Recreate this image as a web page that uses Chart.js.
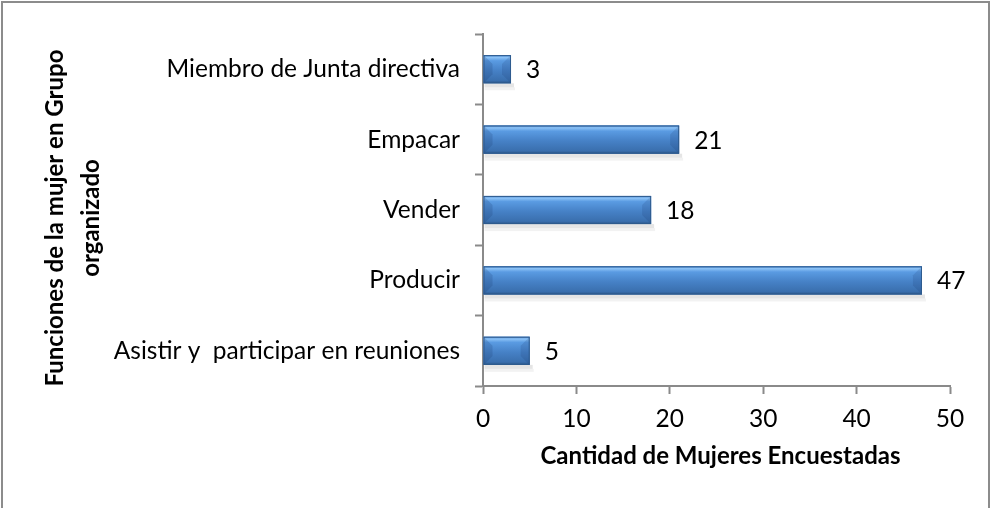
<!DOCTYPE html>
<html>
<head>
<meta charset="utf-8">
<script src="https://cdn.jsdelivr.net/npm/chart.js@4/dist/chart.umd.min.js"></script>
<style>
  html, body { margin: 0; padding: 0; background: #ffffff; }
  #wrap { width: 992px; height: 508px; position: relative; }
</style>
</head>
<body>
<div id="wrap"><canvas id="c" width="992" height="508"></canvas></div>
<script>
const categories = [
  'Miembro de Junta directiva',
  'Empacar',
  'Vender',
  'Producir',
  'Asistir y  participar en reuniones'
];
const values = [3, 21, 18, 47, 5];
const xTicks = [0, 10, 20, 30, 40, 50];
const xTitle = 'Cantidad de Mujeres Encuestadas';
const yTitleLines = ['Funciones de la mujer en Grupo', 'organizado'];

const FONT = 'Lato, "Open Sans", sans-serif';
const AXIS = '#8a8a8a';

const frame = {
  id: 'frame',
  beforeDraw(chart) {
    const ctx = chart.ctx;
    ctx.save();
    ctx.fillStyle = '#fff';
    ctx.fillRect(0, 0, chart.width, chart.height);
    ctx.strokeStyle = '#8c8c8c';
    ctx.lineWidth = 2;
    ctx.beginPath();
    ctx.moveTo(2, 520);
    ctx.lineTo(2, 2);
    ctx.lineTo(989, 2);
    ctx.lineTo(989, 520);
    ctx.stroke();
    ctx.restore();
  }
};

const bevelBars = {
  id: 'bevelBars',
  afterDatasetsDraw(chart) {
    const ctx = chart.ctx;
    const meta = chart.getDatasetMeta(0);
    meta.data.forEach((bar, i) => {
      const x0 = bar.base, x1 = bar.x;
      const h = bar.height;
      const y0 = bar.y - h / 2, y1 = bar.y + h / 2;
      const w = x1 - x0;
      ctx.save();
      // shadow
      ctx.fillStyle = 'rgba(0,0,0,0.10)';
      ctx.fillRect(x0 + 1, y1, w + 2, 4);
      ctx.fillStyle = 'rgba(0,0,0,0.05)';
      ctx.fillRect(x0 + 1, y1 + 4, w + 3, 3);
      // main gradient
      const g = ctx.createLinearGradient(0, y0, 0, y1);
      g.addColorStop(0, '#4a86cf');
      g.addColorStop(0.08, '#8cc2f6');
      g.addColorStop(0.2, '#5a9be2');
      g.addColorStop(0.55, '#4681c6');
      g.addColorStop(0.9, '#3a6fae');
      g.addColorStop(1, '#2b5587');
      ctx.fillStyle = g;
      ctx.fillRect(x0, y0, w, h);
      // bevel ends
      const b = Math.min(9, w / 2, h / 2);
      ctx.fillStyle = 'rgba(20,50,100,0.18)';
      ctx.beginPath();
      ctx.moveTo(x0, y0);
      ctx.lineTo(x0 + b, y0 + b);
      ctx.lineTo(x0 + b, y1 - b);
      ctx.lineTo(x0, y1);
      ctx.closePath();
      ctx.fill();
      ctx.fillStyle = 'rgba(20,50,100,0.15)';
      ctx.beginPath();
      ctx.moveTo(x1, y0);
      ctx.lineTo(x1 - b, y0 + b);
      ctx.lineTo(x1 - b, y1 - b);
      ctx.lineTo(x1, y1);
      ctx.closePath();
      ctx.fill();
      // outline
      ctx.strokeStyle = '#2e5b8e';
      ctx.lineWidth = 1;
      ctx.strokeRect(x0 + 0.5, y0 + 0.5, w - 1, h - 1);
      // label
      ctx.fillStyle = '#000';
      ctx.font = '24.5px ' + FONT;
      ctx.textAlign = 'left';
      ctx.textBaseline = 'middle';
      ctx.fillText(String(values[i]), x1 + 15, bar.y + 1);
      ctx.restore();
    });
  }
};

const titlesPlugin = {
  id: 'titlesPlugin',
  afterDraw(chart) {
    const ctx = chart.ctx;
    const area = chart.chartArea;
    ctx.save();
    ctx.fillStyle = '#000';
    ctx.font = 'bold 24px ' + FONT;
    ctx.textAlign = 'center';
    ctx.textBaseline = 'alphabetic';
    ctx.fillText(xTitle, (area.left + area.right) / 2 + 4, 464);
    ctx.translate(0, 218);
    ctx.rotate(-Math.PI / 2);
    ctx.fillText(yTitleLines[0], 0, 63);
    ctx.fillText(yTitleLines[1], 0, 99);
    ctx.restore();
  }
};

new Chart(document.getElementById('c'), {
  type: 'bar',
  data: {
    labels: categories,
    datasets: [{
      data: values,
      backgroundColor: '#4a84c8',
      borderWidth: 0,
      barPercentage: 0.4,
      categoryPercentage: 1.0
    }]
  },
  options: {
    indexAxis: 'y',
    responsive: false,
    animation: false,
    devicePixelRatio: 1,
    layout: { padding: { left: 0, right: 42, top: 34, bottom: 0 } },
    plugins: { legend: { display: false }, tooltip: { enabled: false } },
    scales: {
      x: {
        min: 0, max: 50,
        afterFit(s) { s.height = 122; },
        afterBuildTicks(s) { s.ticks = xTicks.map(v => ({ value: v })); },
        grid: { drawOnChartArea: false, drawTicks: true, tickLength: 8, tickColor: AXIS, tickWidth: 2 },
        border: { color: AXIS, width: 2 },
        ticks: { color: '#000', font: { family: FONT, size: 24.5 }, padding: 10 },
        title: { display: false }
      },
      y: {
        afterFit(s) { s.width = 483; },
        grid: { offset: true, drawOnChartArea: false, drawTicks: true, tickLength: 8, tickColor: AXIS, tickWidth: 2 },
        border: { color: AXIS, width: 2 },
        ticks: { color: '#000', font: { family: FONT, size: 24.5 }, padding: 15 }
      }
    }
  },
  plugins: [frame, bevelBars, titlesPlugin]
});
</script>
</body>
</html>
